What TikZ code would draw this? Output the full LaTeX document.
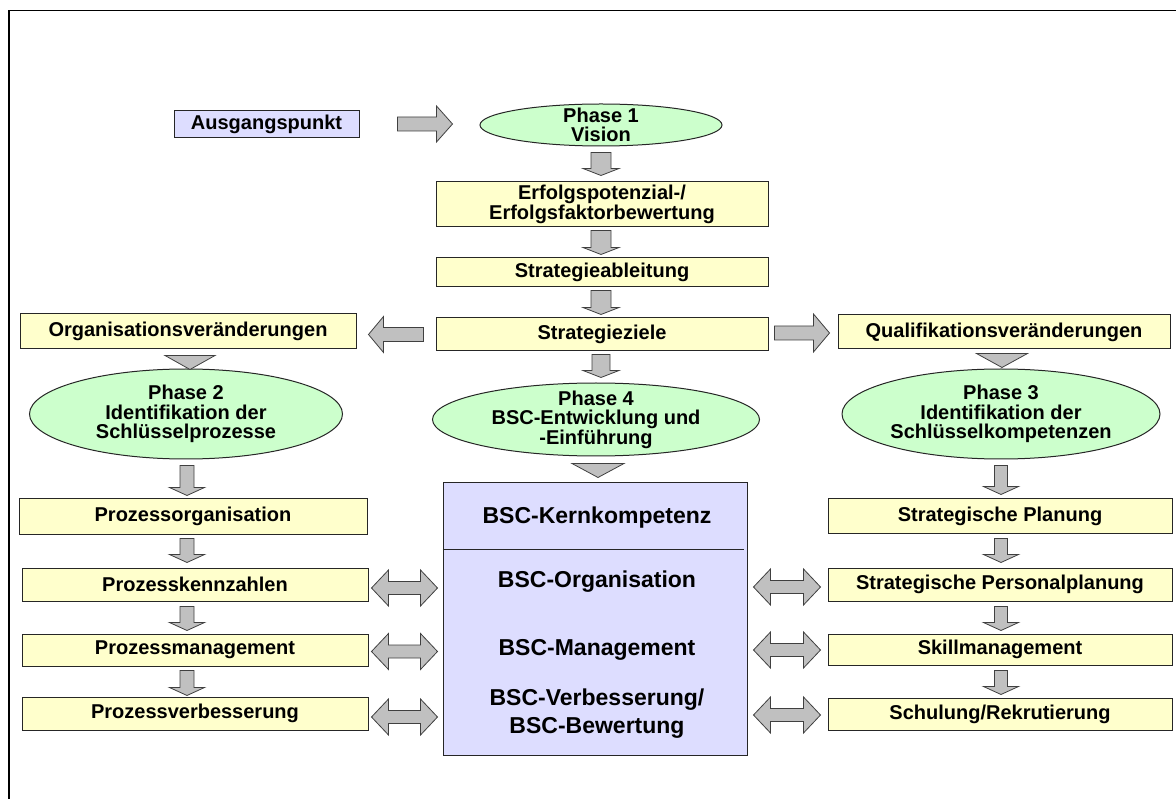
\documentclass[tikz,border=0pt]{standalone}
\usepackage{fontspec}
\setmainfont{Liberation Sans}
\usetikzlibrary{shapes.geometric,calc}
\definecolor{boxyellow}{HTML}{FFFFCC}
\definecolor{ellgreen}{HTML}{CCFFCC}
\definecolor{lavender}{HTML}{DDDDFF}
\definecolor{arrowgray}{HTML}{C0C0C0}
\definecolor{arrowline}{HTML}{404040}
\definecolor{boxline}{HTML}{262626}
\tikzset{
  lbl/.style={font=\bfseries\fontsize{20}{19.5}\selectfont, align=center, text=black},
  bigfont/.style={font=\bfseries\fontsize{23}{28}\selectfont, align=center, text=black},
  ybox/.style={draw=boxline, line width=1pt, fill=boxyellow, inner sep=0pt, lbl},
  lbox/.style={draw=boxline, line width=1pt, fill=lavender, inner sep=0pt, lbl},
  gell/.style={ellipse, draw=boxline, line width=1pt, fill=ellgreen, inner sep=0pt},
  blockarrow/.style={fill=arrowgray, draw=arrowline, line width=0.8pt, line join=miter},
}
% down arrow: #1 start (top centre), #2 tip, #3 shaft half width, #4 head half width, #5 head length
\newcommand\darr[5]{\filldraw[blockarrow] let \p1=#1, \p2=#2 in
  (\x1-#3,\y1) -- (\x1+#3,\y1) -- (\x1+#3,\y2+#5) -- (\x1+#4,\y2+#5) -- (\x1,\y2)
  -- (\x1-#4,\y2+#5) -- (\x1-#3,\y2+#5) -- cycle;}
% right arrow
\newcommand\rarr[5]{\filldraw[blockarrow] let \p1=#1, \p2=#2 in
  (\x1,\y1+#3) -- (\x2-#5,\y1+#3) -- (\x2-#5,\y1+#4) -- (\x2,\y1) -- (\x2-#5,\y1-#4)
  -- (\x2-#5,\y1-#3) -- (\x1,\y1-#3) -- cycle;}
% left arrow
\newcommand\larr[5]{\filldraw[blockarrow] let \p1=#1, \p2=#2 in
  (\x1,\y1+#3) -- (\x2+#5,\y1+#3) -- (\x2+#5,\y1+#4) -- (\x2,\y1) -- (\x2+#5,\y1-#4)
  -- (\x2+#5,\y1-#3) -- (\x1,\y1-#3) -- cycle;}
% double arrow: #1 left tip, #2 right tip
\newcommand\dblarr[5]{\filldraw[blockarrow] let \p1=#1, \p2=#2 in
  (\x1,\y1) -- (\x1+#5,\y1+#4) -- (\x1+#5,\y1+#3) -- (\x2-#5,\y1+#3) -- (\x2-#5,\y1+#4)
  -- (\x2,\y1) -- (\x2-#5,\y1-#4) -- (\x2-#5,\y1-#3) -- (\x1+#5,\y1-#3) -- (\x1+#5,\y1-#4) -- cycle;}
% triangle: #1 top centre, #2 tip, #3 half width
\newcommand\triarr[3]{\filldraw[blockarrow] let \p1=#1, \p2=#2 in
  (\x1-#3,\y1) -- (\x1+#3,\y1) -- (\x1,\y2) -- cycle;}
\begin{document}
\begin{tikzpicture}[x=1pt,y=-1pt]
\useasboundingbox (0,0) rectangle (1176,799);
\fill[white] (0,0) rectangle (1176,799);
\draw[line width=1.5pt, black] (9,799) -- (9,10.5) -- (1176,10.5);

% centre column
\node[lbox, minimum width=185pt, minimum height=27pt] (aus) at (266.5,124.5) {Ausgangspunkt};
\node[gell, minimum width=242pt, minimum height=42pt, label={[lbl]center:{Phase 1\\Vision}}] (ph1) at (601,125) {};
\node[ybox, minimum width=332pt, minimum height=45pt] (erf) at (602,204.5) {Erfolgspotenzial-/\\Erfolgsfaktorbewertung};
\node[ybox, minimum width=332pt, minimum height=29pt] (sab) at (602,272.5) {Strategieableitung};
\node[ybox, minimum width=332pt, minimum height=33pt] (sz) at (602,334.5) {Strategieziele};
\node[gell, minimum width=327pt, minimum height=73pt, label={[lbl]center:{Phase 4\\BSC-Entwicklung und\\-Einführung}}] (ph4) at (596,419.5) {};
\node[draw=boxline, line width=1pt, fill=lavender, minimum width=304pt, minimum height=272pt, inner sep=0pt] (big) at (595,619) {};
\draw[boxline, line width=1pt] ($(big.north west)+(0,67)$) -- ($(big.north east)+(-4,67)$);
\node[bigfont] (bk) at (597,518) {BSC-Kernkompetenz};
\node[bigfont] (bo) at (597,582) {BSC-Organisation};
\node[bigfont] (bm) at (597,650) {BSC-Management};
\node[bigfont] (bv) at (597,714) {BSC-Verbesserung/\\BSC-Bewertung};

% left column
\node[ybox, minimum width=336pt, minimum height=35pt] (ov) at (188,331.5) {Organisationsveränderungen};
\node[gell, minimum width=313pt, minimum height=90pt, label={[lbl]center:{Phase 2\\Identifikation der\\Schlüsselprozesse}}] (ph2) at (186,414) {};
\node[ybox, minimum width=348pt, minimum height=35pt] (po) at (193,516.5) {Prozessorganisation};
\node[ybox, minimum width=346pt, minimum height=33pt] (pk) at (195,584.5) {Prozesskennzahlen};
\node[ybox, minimum width=346pt, minimum height=32pt] (pm) at (195,650) {Prozessmanagement};
\node[ybox, minimum width=346pt, minimum height=33pt] (pv) at (195,713.5) {Prozessverbesserung};

% right column
\node[ybox, minimum width=332pt, minimum height=34pt] (qv) at (1004,332) {Qualifikationsveränderungen};
\node[gell, minimum width=318pt, minimum height=90pt, label={[lbl]center:{Phase 3\\Identifikation der\\Schlüsselkompetenzen}}] (ph3) at (1001,414) {};
\node[ybox, minimum width=344pt, minimum height=34pt] (sp) at (1000,516) {Strategische Planung};
\node[ybox, minimum width=344pt, minimum height=33pt] (spp) at (1000,584.5) {Strategische Personalplanung};
\node[ybox, minimum width=344pt, minimum height=31pt] (sm) at (1000,649.5) {Skillmanagement};
\node[ybox, minimum width=344pt, minimum height=32pt] (sr) at (1000,714) {Schulung/Rekrutierung};

% connectors, centre
\rarr{($(aus.east)+(38,-0.5)$)}{($(ph1.west)+(-27,0)$)}{7pt}{18pt}{16pt}
\darr{($(ph1.south)+(0,6)$)}{($(erf.north)+(0,-6)$)}{10pt}{18pt}{7pt}
\darr{($(erf.south)+(-1,3)$)}{($(sab.north)+(-1,-3)$)}{10pt}{18pt}{7pt}
\darr{($(sab.south)+(-1,3)$)}{($(sz.north)+(-1,-3)$)}{10pt}{18pt}{7pt}
\darr{($(sz.south)+(-1,3)$)}{($(ph4.north)+(5,-5)$)}{9pt}{18pt}{7pt}
\triarr{($(ph4.south)+(2,7)$)}{($(big.north)+(3,-5)$)}{26pt}
\larr{($(sz.west)+(-12,0)$)}{($(ov.east)+(12,2.5)$)}{7pt}{18pt}{15pt}
\rarr{($(sz.east)+(6,-1.5)$)}{($(qv.west)+(-8,0)$)}{7pt}{19pt}{16pt}
\triarr{($(ov.south)+(2,6)$)}{($(ph2.north)+(4,1)$)}{25pt}
\triarr{($(qv.south)+(-2,4)$)}{($(ph3.north)+(1,-1)$)}{25.5pt}

% connectors, left column
\darr{($(ph2.south)+(1,6)$)}{($(po.north)+(-6,-3)$)}{7pt}{17.5pt}{8pt}
\darr{($(po.south)+(-6,4)$)}{($(pk.north)+(-8,-5)$)}{7pt}{17.5pt}{8pt}
\darr{($(pk.south)+(-8,5)$)}{($(pm.north)+(-8,-3)$)}{7pt}{17.5pt}{8pt}
\darr{($(pm.south)+(-8,4)$)}{($(pv.north)+(-8,-1)$)}{7pt}{17.5pt}{8pt}

% connectors, right column
\darr{($(ph3.south)+(0,6)$)}{($(sp.north)+(1,-4)$)}{6.5pt}{17.5pt}{8pt}
\darr{($(sp.south)+(1,5)$)}{($(spp.north)+(1,-5)$)}{6.5pt}{17.5pt}{8pt}
\darr{($(spp.south)+(1,5)$)}{($(sm.north)+(1,-3)$)}{6.5pt}{17.5pt}{8pt}
\darr{($(sm.south)+(1,5)$)}{($(sr.north)+(1,-3)$)}{6.5pt}{17.5pt}{8pt}

% double arrows
\dblarr{($(pk.east)+(3,3.5)$)}{($(pk.east -| big.west)+(-5,3.5)$)}{6.5pt}{18pt}{17pt}
\dblarr{($(pm.east)+(3,1.5)$)}{($(pm.east -| big.west)+(-5,1.5)$)}{6.5pt}{18pt}{17pt}
\dblarr{($(pv.east)+(3,3.5)$)}{($(pv.east -| big.west)+(-5,3.5)$)}{6.5pt}{18pt}{17pt}
\dblarr{($(spp.west -| big.east)+(6,2.5)$)}{($(spp.west)+(-7,2.5)$)}{6.5pt}{18pt}{17pt}
\dblarr{($(sm.west -| big.east)+(6,0.5)$)}{($(sm.west)+(-7,0.5)$)}{6.5pt}{18pt}{17pt}
\dblarr{($(sr.west -| big.east)+(6,1)$)}{($(sr.west)+(-7,1)$)}{6.5pt}{18pt}{17pt}
\end{tikzpicture}
\end{document}
